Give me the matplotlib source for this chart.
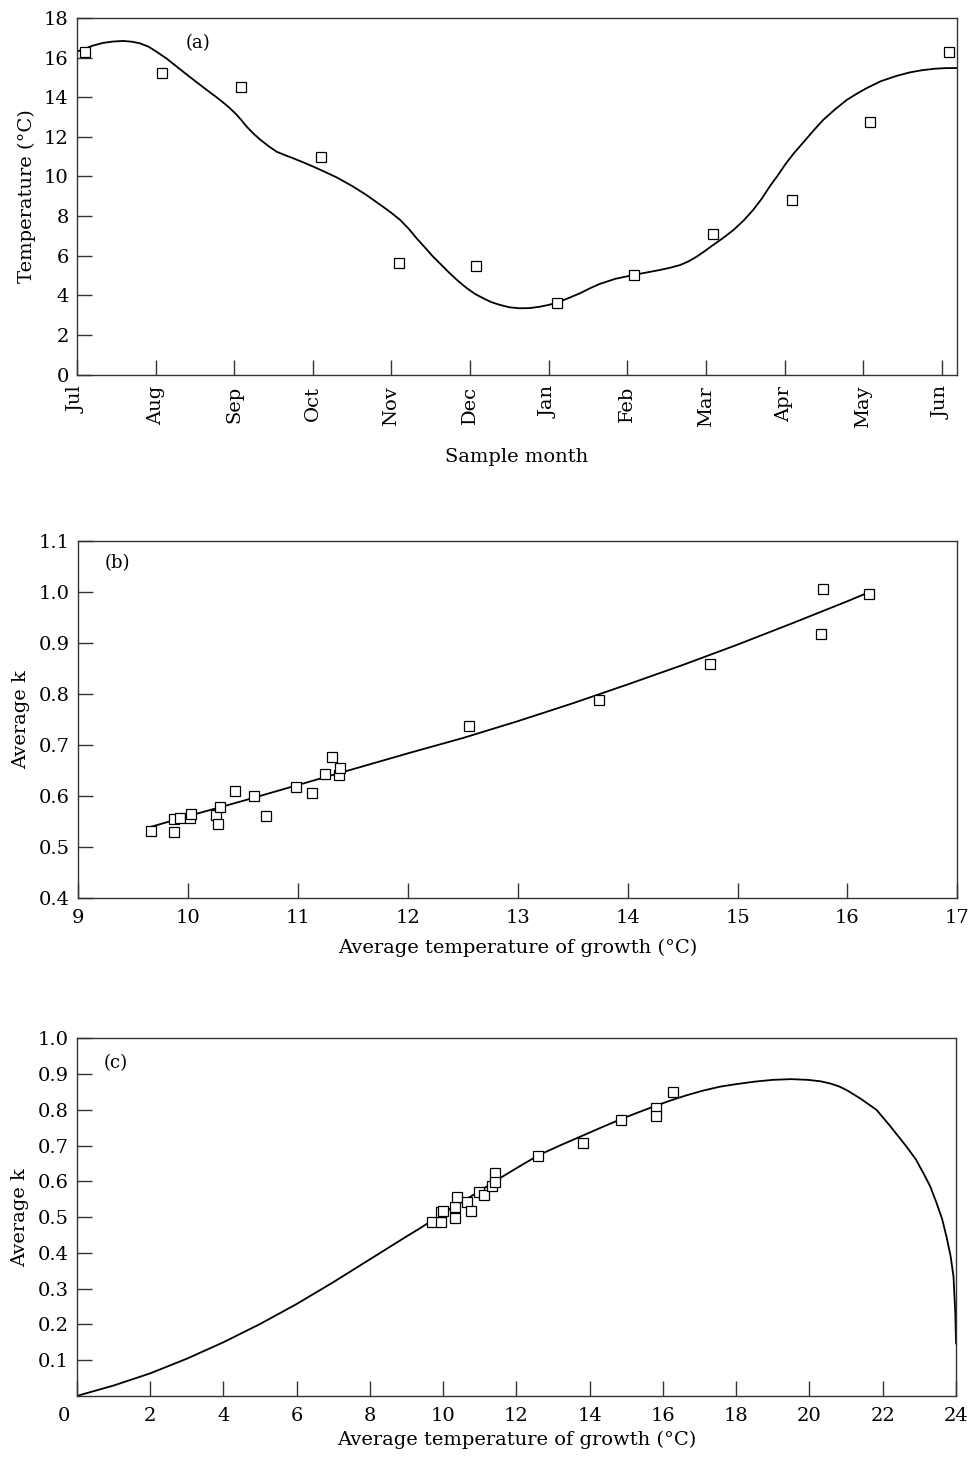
import numpy as np
import matplotlib
matplotlib.use("Agg")
import matplotlib.pyplot as plt
import matplotlib.transforms as mtransforms

plt.rcParams['font.family'] = ['DejaVu Serif']
plt.rcParams['font.size'] = 13

# ---- panel (a): monthly temperature ----
months = ['Jul', 'Aug', 'Sep', 'Oct', 'Nov', 'Dec', 'Jan', 'Feb', 'Mar', 'Apr', 'May', 'Jun']
a_month_pos = [0.10, 1.08, 2.08, 3.11, 4.10, 5.08, 6.10, 7.08, 8.09, 9.10, 10.09, 11.09]
a_temp = [16.3, 15.24, 14.53, 10.98, 5.62, 5.48, 3.63, 5.03, 7.08, 8.80, 12.75, 16.27]

a_curve_x = [0.0, 0.10, 0.20, 0.33, 0.46, 0.59, 0.70, 0.80, 0.91, 1.01, 1.14, 1.27, 1.41,
             1.56, 1.69, 1.82, 1.93, 2.03, 2.10, 2.16, 2.24, 2.33, 2.44, 2.54, 2.65, 2.75,
             2.88, 3.01, 3.15, 3.30, 3.50, 3.68, 3.89, 4.00, 4.11, 4.22, 4.32, 4.43, 4.53,
             4.64, 4.74, 4.85, 4.96, 5.06, 5.17, 5.27, 5.38, 5.50, 5.63, 5.76, 5.89, 6.00,
             6.10, 6.25, 6.40, 6.52, 6.65, 6.85, 7.08, 7.25, 7.41, 7.55, 7.67, 7.78, 7.88,
             7.98, 8.09, 8.22, 8.35, 8.48, 8.60, 8.71, 8.81, 8.92, 9.02, 9.12, 9.23, 9.36,
             9.49, 9.64, 9.79, 9.92, 10.04, 10.22, 10.42, 10.59, 10.76, 10.92, 11.06, 11.19]
a_curve_y = [16.30, 16.45, 16.60, 16.74, 16.81, 16.84, 16.80, 16.72, 16.55, 16.30, 15.95,
             15.54, 15.10, 14.64, 14.25, 13.86, 13.50, 13.12, 12.80, 12.51, 12.18, 11.86,
             11.52, 11.25, 11.07, 10.92, 10.71, 10.49, 10.24, 9.96, 9.52, 9.07, 8.48, 8.16,
             7.81, 7.36, 6.88, 6.40, 5.95, 5.52, 5.12, 4.72, 4.36, 4.08, 3.85, 3.66, 3.52,
             3.40, 3.35, 3.36, 3.43, 3.52, 3.63, 3.86, 4.11, 4.35, 4.58, 4.84, 5.03, 5.16,
             5.28, 5.40, 5.53, 5.72, 5.95, 6.22, 6.54, 6.90, 7.30, 7.78, 8.31, 8.88, 9.49,
             10.09, 10.67, 11.18, 11.68, 12.28, 12.85, 13.38, 13.86, 14.18, 14.45, 14.80,
             15.07, 15.25, 15.37, 15.44, 15.47, 15.47]

# ---- panel (b): average k vs temperature ----
b_temp = [9.66, 9.87, 9.87, 9.93, 10.02, 10.03, 10.25, 10.27, 10.29, 10.43, 10.60, 10.71,
          10.98, 11.13, 11.25, 11.31, 11.37, 11.38, 12.56, 13.74, 14.75, 15.76, 15.78, 16.20]
b_k = [0.532, 0.529, 0.555, 0.557, 0.557, 0.565, 0.563, 0.546, 0.579, 0.610, 0.600, 0.562,
       0.618, 0.606, 0.643, 0.677, 0.642, 0.656, 0.738, 0.788, 0.859, 0.918, 1.005, 0.997]
b_curve_x = [9.66, 10.0, 10.5, 11.0, 11.5, 12.0, 12.5, 13.0, 13.5, 14.0, 14.5, 15.0,
             15.5, 16.0, 16.2]
b_curve_y = [0.540, 0.561, 0.591, 0.622, 0.653, 0.684, 0.714, 0.747, 0.782, 0.819, 0.857,
             0.897, 0.939, 0.982, 1.000]

# ---- panel (c): average k, full temperature range ----
c_temp = [9.71, 9.95, 9.95, 10.00, 10.32, 10.32, 10.39, 10.64, 10.76, 10.98, 11.12, 11.34,
          11.41, 11.41, 12.60, 13.82, 14.86, 15.80, 15.80, 16.27]
c_k = [0.486, 0.486, 0.514, 0.517, 0.497, 0.528, 0.557, 0.543, 0.517, 0.571, 0.562, 0.588,
       0.623, 0.599, 0.671, 0.707, 0.772, 0.804, 0.783, 0.851]
c_curve_x = [0.0, 1.0, 2.0, 3.0, 4.0, 5.0, 6.0, 7.0, 8.0, 9.0, 9.37, 10.28, 11.0, 11.55,
             12.1, 12.6, 13.2, 13.74, 14.3, 14.83, 15.3, 15.74, 16.2, 16.65, 17.1, 17.56,
             18.0, 18.5, 19.0, 19.5, 19.95, 20.3, 20.56, 20.8, 21.02, 21.4, 21.83, 22.2,
             22.65, 22.9, 23.11, 23.3, 23.47, 23.62, 23.74, 23.85, 23.93, 23.98, 24.0]
c_curve_y = [0.0, 0.029, 0.063, 0.104, 0.150, 0.201, 0.257, 0.318, 0.382, 0.446, 0.469,
             0.529, 0.573, 0.609, 0.643, 0.673, 0.701, 0.725, 0.750, 0.773, 0.792, 0.809,
             0.826, 0.841, 0.854, 0.865, 0.872, 0.879, 0.884, 0.886, 0.884, 0.880, 0.874,
             0.866, 0.855, 0.831, 0.800, 0.755, 0.697, 0.662, 0.623, 0.585, 0.539, 0.495,
             0.445, 0.392, 0.334, 0.231, 0.147]

fig = plt.figure(figsize=(9.71, 14.59), dpi=100)

mk = dict(marker='s', ms=6.5, mfc='white', mec='black', mew=0.9, ls='none', zorder=3)


def style(ax):
    for s in ax.spines.values():
        s.set_linewidth(1.0)
        s.set_color('#333333')
    ax.tick_params(direction='in', length=11, width=1.0, color='#333333',
                   top=False, right=False, labelsize=14)
    ax.tick_params(axis='x', pad=8)
    ax.tick_params(axis='y', pad=6)


# (a)
ax1 = fig.add_axes([0.0793, 0.7432, 0.9060, 0.2445])
ax1.plot(a_curve_x, a_curve_y, color='black', lw=1.3)
ax1.plot(a_month_pos, a_temp, **mk)
ax1.set_xlim(0, 11.19)
ax1.set_ylim(0, 18)
ax1.set_xticks(range(12))
ax1.set_xticklabels(months, rotation=90, va='top', ha='center')
ax1.set_yticks(range(0, 19, 2))
ax1.set_xlabel('Sample month', fontsize=14, labelpad=14)
ax1.set_ylabel('Temperature (°C)', fontsize=14, labelpad=6)
ax1.text(0.123, 0.93, '(a)', transform=ax1.transAxes, fontsize=13, va='center')
style(ax1)

# (b)
ax2 = fig.add_axes([0.0806, 0.3843, 0.9053, 0.2449])
ax2.plot(b_curve_x, b_curve_y, color='black', lw=1.3)
ax2.plot(b_temp, b_k, **mk)
ax2.set_xlim(9, 17)
ax2.set_ylim(0.4, 1.1)
ax2.set_xticks(range(9, 18))
ax2.set_yticks(np.arange(0.4, 1.11, 0.1))
ax2.yaxis.set_major_formatter(matplotlib.ticker.FormatStrFormatter('%.1f'))
ax2.set_xlabel('Average temperature of growth (°C)', fontsize=14, labelpad=8)
ax2.set_ylabel('Average k', fontsize=14, labelpad=6)
ax2.text(0.030, 0.938, '(b)', transform=ax2.transAxes, fontsize=13, va='center')
style(ax2)

# (c)
ax3 = fig.add_axes([0.0790, 0.0432, 0.9056, 0.2451])
ax3.plot(c_curve_x, c_curve_y, color='black', lw=1.3)
ax3.plot(c_temp, c_k, **mk)
ax3.set_xlim(0, 24)
ax3.set_ylim(0, 1.0)
ax3.set_xticks(range(0, 25, 2))
ax3.set_yticks(np.arange(0.1, 1.01, 0.1))
ax3.yaxis.set_major_formatter(matplotlib.ticker.FormatStrFormatter('%.1f'))
ax3.set_xlabel('Average temperature of growth (°C)', fontsize=14, labelpad=4)
ax3.set_ylabel('Average k', fontsize=14, labelpad=6)
ax3.text(0.031, 0.931, '(c)', transform=ax3.transAxes, fontsize=13, va='center')
style(ax3)
# the "0" label sits a little left of the axis corner
lbl0 = ax3.get_xticklabels()[0]
lbl0.set_transform(lbl0.get_transform() + mtransforms.ScaledTranslation(-0.13, 0, fig.dpi_scale_trans))

fig.savefig('out.png', dpi=100)
